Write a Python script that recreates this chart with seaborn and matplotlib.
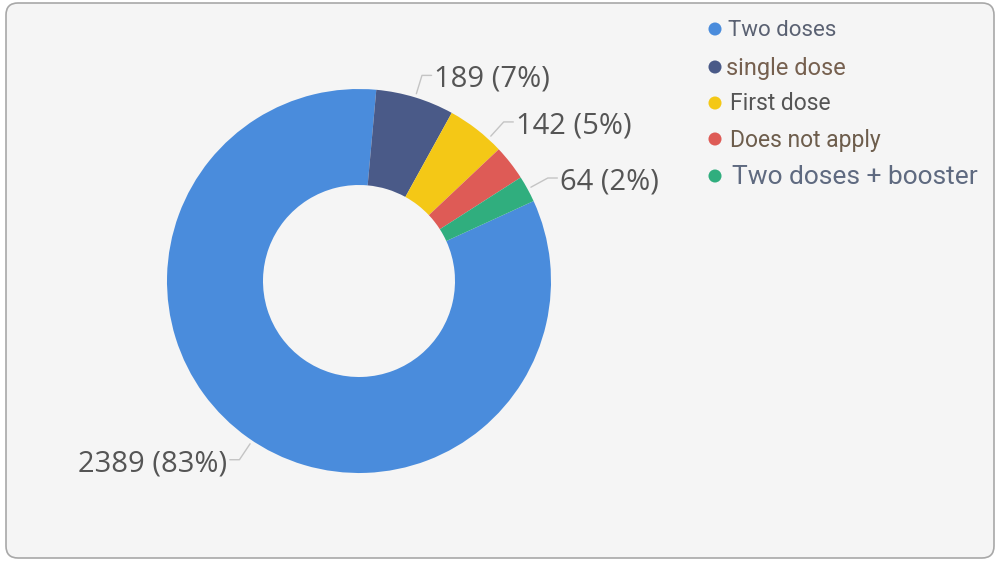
import numpy as np
import matplotlib.pyplot as plt
import seaborn as sns
from matplotlib.patches import FancyBboxPatch

# Data
categories = ["Two doses", "single dose", "First dose", "Does not apply", "Two doses + booster"]
counts = [2389, 189, 142, 85, 64]
show_label = [True, True, True, False, True]
colors = ["#4a8cdc", "#4a5a88", "#f4c816", "#de5b56", "#30ae7e"]

# Legend styling (text colours / sizes differ per entry in the original)
legend_text_colors = ["#5a6172", "#76604f", "#555555", "#6d5d4c", "#5f6a80"]
legend_sizes = [16, 17, 16.5, 16.5, 19]
legend_y = [29, 67, 103, 139, 176]
legend_text_x = [728, 726, 730, 730, 732]
# small nudges of the label leaders (degrees, clockwise) to avoid crowding
label_nudge = [-1.5, 0, 4.5, 0, 0]

sns.set_theme(style="white")
plt.rcParams["font.family"] = ["Open Sans", "DejaVu Sans"]

fig = plt.figure(figsize=(10, 5.63), dpi=100)
fig.patch.set_facecolor("white")

# Background panel and legend in pixel coordinates
bg = fig.add_axes([0, 0, 1, 1])
bg.set_xlim(0, 1000)
bg.set_ylim(563, 0)
bg.axis("off")
bg.add_patch(FancyBboxPatch((6, 3), 988, 555,
                            boxstyle="round,pad=0,rounding_size=12",
                            fc="#f5f5f5", ec="#a8a8a8", lw=1.2))

for i, cat in enumerate(categories):
    bg.scatter(715, legend_y[i], s=88, color=colors[i], edgecolors="none")
    bg.text(legend_text_x[i], legend_y[i] + 1, cat, va="center", ha="left",
            fontsize=legend_sizes[i], color=legend_text_colors[i],
            family=["Roboto", "DejaVu Sans"])

# Donut
lim = 1.45
side = 2 * lim * 192  # pixels
cx, cy = 359, 563 - 281
ax = fig.add_axes([(cx - side / 2) / 1000, (cy - side / 2) / 563, side / 1000, side / 563])
ax.patch.set_alpha(0)
wedges, _ = ax.pie(counts, colors=colors, startangle=24.6, counterclock=False,
                   radius=1, wedgeprops=dict(width=0.5, edgecolor="none", linewidth=0))
ax.set_xlim(-lim, lim)
ax.set_ylim(-lim, lim)
ax.set_aspect("equal")
ax.axis("off")

total = sum(counts)
for w, c, show, nudge in zip(wedges, counts, show_label, label_nudge):
    if not show:
        continue
    ang = np.deg2rad((w.theta1 + w.theta2) / 2 - nudge)
    ux, uy = np.cos(ang), np.sin(ang)
    side_sign = 1 if ux >= 0 else -1
    p0 = (1.02 * ux, 1.02 * uy)
    p1 = (1.12 * ux, 1.12 * uy)
    p2 = (p1[0] + side_sign * 0.05, p1[1])
    ax.plot([p0[0], p1[0], p2[0]], [p0[1], p1[1], p2[1]], color="#c4c4c4", lw=1)
    ax.text(p2[0] + side_sign * 0.015, p2[1] - 0.02,
            f"{c} ({round(c / total * 100)}%)",
            ha="left" if side_sign > 0 else "right", va="center",
            fontsize=21, color="#555555")

fig.savefig("out.png", dpi=100)
